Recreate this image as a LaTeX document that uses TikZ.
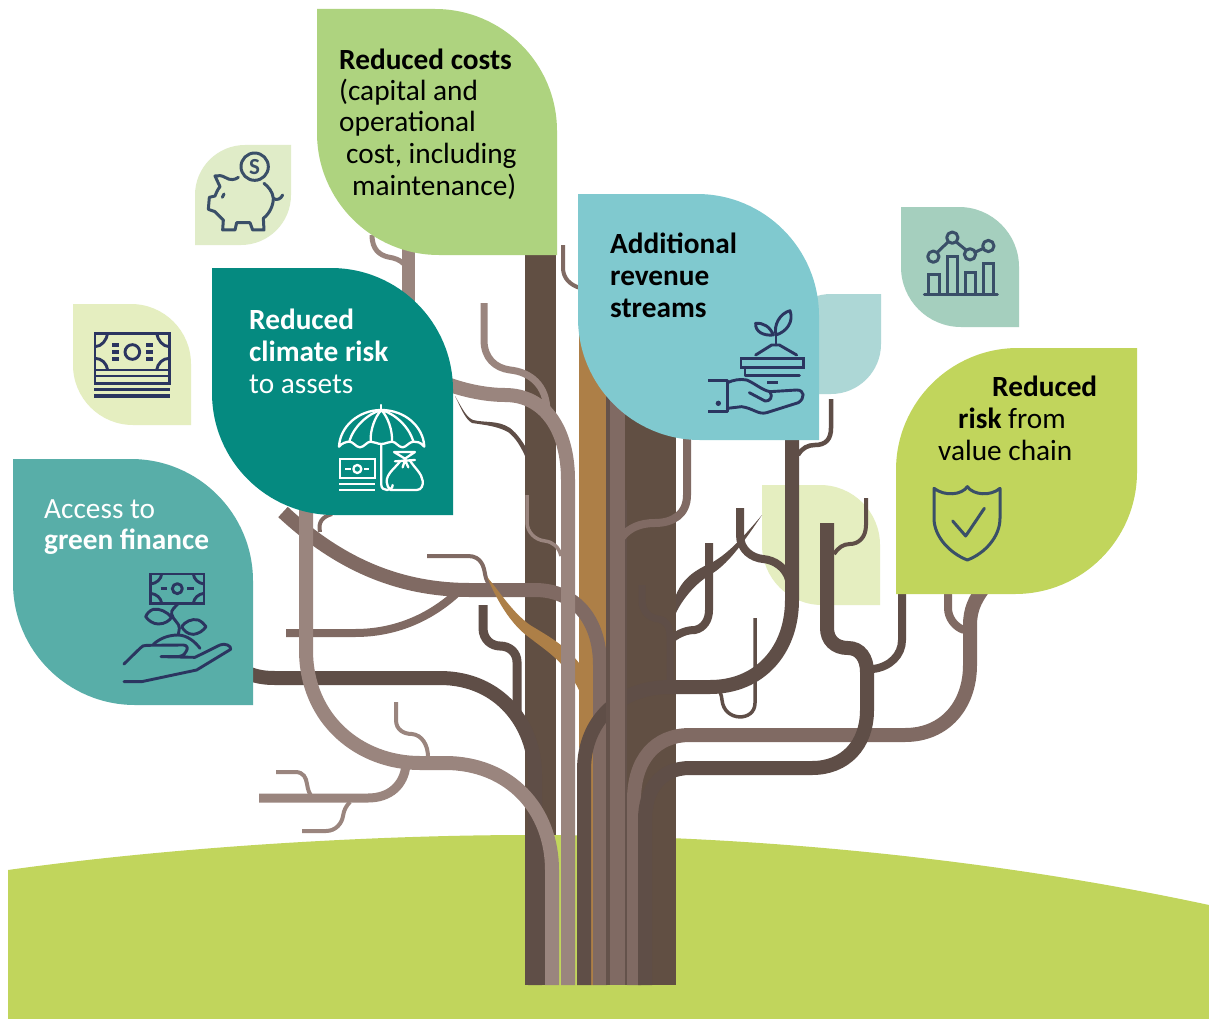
\documentclass[tikz,border=0pt]{standalone}
\usepackage{fontspec}
\setmainfont{Carlito}
\newcommand{\leafA}[6]{\fill[#6] (#1,#2) -- ({#3-#5},#2) .. controls ({#3-.448*#5},#2) and (#3,{#2+.448*#5}) .. (#3,{#2+#5}) -- (#3,#4) -- ({#1+#5},#4) .. controls ({#1+.448*#5},#4) and (#1,{#4-.448*#5}) .. (#1,{#4-#5}) -- cycle;}
\newcommand{\leafB}[6]{\fill[#6] (#3,#2) -- ({#1+#5},#2) .. controls ({#1+.448*#5},#2) and (#1,{#2+.448*#5}) .. (#1,{#2+#5}) -- (#1,#4) -- ({#3-#5},#4) .. controls ({#3-.448*#5},#4) and (#3,{#4-.448*#5}) .. (#3,{#4-#5}) -- cycle;}
\definecolor{cdark}{HTML}{5F4E47}
\definecolor{ctrunk}{HTML}{614F43}
\definecolor{cmed}{HTML}{806A63}
\definecolor{clight}{HTML}{9A857E}
\definecolor{corange}{HTML}{AD7F47}
\definecolor{cground}{HTML}{C1D55C}
\definecolor{cnavy}{HTML}{2B3560}
\definecolor{cslate}{HTML}{3A4F68}
\definecolor{lfgreen}{HTML}{AED37F}
\definecolor{lfteal}{HTML}{058A80}
\definecolor{lfaqua}{HTML}{58AEA8}
\definecolor{lfblue}{HTML}{80C9CF}
\definecolor{lflime}{HTML}{C1D55C}
\definecolor{lfpale}{HTML}{E5EEC0}
\definecolor{lfpig}{HTML}{E0ECC8}
\definecolor{lfpaleblue}{HTML}{ADD7D6}
\definecolor{lfsage}{HTML}{A5CFBE}
\tikzset{
  bD/.style={draw=cdark,line width=14pt},
  bM/.style={draw=cmed,line width=14pt},
  bL/.style={draw=clight,line width=14pt},
  twigD/.style={draw=cdark,line width=#1},
  twigM/.style={draw=cmed,line width=#1},
  twigL/.style={draw=clight,line width=#1},
  leaftext/.style={anchor=base west,inner sep=0pt,font=\fontsize{29.3}{33}\selectfont},
  iconN/.style={draw=cnavy,line width=2.9pt,line join=round,line cap=round},
  iconS/.style={draw=cslate,line width=3pt,line join=round,line cap=round},
  iconW/.style={draw=white,line width=2.3pt,line join=round,line cap=round},
}
\begin{document}
\begin{tikzpicture}[x=1pt,y=-1pt]
\useasboundingbox (0,0) rectangle (1209,1019);
\fill[white] (0,0) rectangle (1209,1019);
% ground
\fill[cground] (8,870) .. controls (180,846) and (380,835) .. (530,835) .. controls (760,835) and (1000,860) .. (1209,905) -- (1209,1019) -- (8,1019) -- cycle;
% pale leaf behind twigs
\leafA{762}{485}{880}{605}{60}{lfpale}
% orange core
\fill[corange] (579,300) rectangle (606,700);
\fill[corange] (579,690) -- (606,690) -- (606,770) -- (593,770) -- (593,985) -- (591,985) -- (591,770) -- (579,747) -- cycle;
% dark left post and trunk
\fill[ctrunk] (525,255) rectangle (556,835);
\fill[cdark] (525,835) rectangle (545,985);
\fill[ctrunk] (625,400) rectangle (676,985);
% trunk strip 593-608 and curved medium branch
\draw[bM] (283,512) .. controls (340,565) and (400,590) .. (470,590) -- (535,590) .. controls (575,590) and (600,620) .. (600,665) -- (600,985);
\draw[twigM=8pt] (286,633) -- (355,633) .. controls (395,633) and (430,618) .. (458,592);
\draw[twigM=4pt] (320,532) .. controls (318,522) and (322,517) .. (332,514);
\draw[twigM=4pt] (427,556) -- (468,556) .. controls (482,556) and (484,568) .. (485,574) .. controls (486,580) and (488,583) .. (491,587);
% orange twig
\fill[corange] (487,577) .. controls (500,592) and (512,612) .. (530,625) .. controls (548,636) and (565,645) .. (579,663) -- (579,690) .. controls (565,662) and (548,652) .. (530,638) .. controls (510,624) and (497,600) .. (487,577) -- cycle;
% light strip and climate branch
\draw[bL] (450,385) .. controls (470,392) and (490,395) .. (505,395) .. controls (545,395) and (568,430) .. (568,480) -- (568,985);
\draw[twigL=7pt] (484,303) -- (484,340) .. controls (484,358) and (495,368) .. (510,370) .. controls (530,372) and (547,385) .. (547,412);
\draw[twigL=3.5pt] (527,495) -- (527,522) .. controls (527,532) and (535,540) .. (545,541) .. controls (553,542) and (559,547) .. (561,556);
\fill[cdark] (455,396) .. controls (462,408) and (466,417) .. (473,420) .. controls (485,423) and (498,420) .. (510,428) .. controls (518,434) and (523,443) .. (527,449) -- (526,458) .. controls (521,447) and (516,438) .. (508,432) .. controls (497,426) and (485,425) .. (472,423) .. controls (465,419) and (461,408) .. (455,396) -- cycle;
% top light branch
\draw[twigL=13pt] (408,245) -- (408,305);
\draw[twigL=5pt] (372,235) .. controls (372,250) and (380,255) .. (388,257) .. controls (395,258) and (400,260) .. (404,264);
% dark branch from green finance
\draw[bD] (250,674) .. controls (258,677) and (266,678) .. (275,678) -- (440,678) .. controls (500,678) and (535,725) .. (535,775) -- (535,985);
\draw[twigD=9pt] (483,605) -- (483,628) .. controls (483,640) and (492,646) .. (500,646) .. controls (510,646) and (517,653) .. (517,662) -- (517,712);
% light big left branch
\draw[bL] (306,510) -- (306,650) .. controls (306,720) and (360,763) .. (420,763) -- (445,763) .. controls (510,763) and (552,810) .. (552,870) -- (552,985);
\draw[twigL=9pt] (259,798) -- (368,798) .. controls (390,798) and (404,785) .. (406,765);
\draw[twigL=4pt] (276,772) -- (295,772) .. controls (304,772) and (306,778) .. (307,784) .. controls (308,790) and (309,793) .. (312,797);
\draw[twigL=4pt] (302,831) -- (326,831) .. controls (336,831) and (342,823) .. (343,816) .. controls (344,810) and (346,806) .. (350,802);
\draw[twigL=4pt] (396,702) -- (396,720) .. controls (396,730) and (404,734) .. (412,734) .. controls (422,735) and (428,745) .. (428,757);
% trunk middle: dark right branch
\draw[bD] (584,985) -- (584,770) .. controls (584,720) and (620,687) .. (670,687) -- (710,687) .. controls (760,687) and (792,650) .. (792,600) -- (792,430);
% strips over it
\fill[cdark!85!cmed] (606,380) rectangle (610,985);
\fill[cmed] (610,380) rectangle (625,985);
\fill[cdark!85!cmed] (625,500) rectangle (627,985);
% branches from right
\draw[twigM=8pt] (687,435) -- (687,495) .. controls (687,515) and (672,523) .. (655,523) .. controls (640,523) and (629,528) .. (622,537);
\draw[twigD=7pt] (642,585) -- (642,600) .. controls (642,612) and (650,618) .. (658,619) .. controls (666,620) and (670,626) .. (670,636) -- (670,685);
% secondary branch
\fill[cdark] (676,613) .. controls (682,600) and (695,583) .. (713,573) .. controls (730,562) and (745,540) .. (762,515) .. controls (745,535) and (730,552) .. (713,562) .. controls (695,570) and (683,578) .. (676,595) -- cycle;
\draw[twigD=8pt] (670,640) .. controls (680,632) and (688,630) .. (695,630) .. controls (704,628) and (709,620) .. (709,610) -- (709,543);
\draw[twigD=8pt] (740,508) -- (740,535) .. controls (740,550) and (752,558) .. (763,559) .. controls (775,560) and (786,568) .. (789,580);
\draw[twigD=4.5pt] (798,455) .. controls (802,448) and (808,445) .. (815,445) .. controls (826,445) and (831,439) .. (831,428) -- (831,399);
\draw[twigD=3.5pt] (755,618) -- (755,703) .. controls (755,722) and (724,722) .. (722,700) .. controls (722,697) and (721,695) .. (720,692);
% light medium long branch
\draw[bM] (634,985) -- (634,800) .. controls (634,760) and (655,735) .. (690,735) -- (905,735) .. controls (945,735) and (970,705) .. (970,665) -- (970,625) .. controls (970,610) and (975,600) .. (982,590);
\draw[twigM=8pt] (948,590) -- (948,608) .. controls (948,618) and (955,627) .. (964,630);
% thick right dark branch
\draw[twigD=8pt] (902,590) -- (902,640) .. controls (902,655) and (890,667) .. (873,669);
\draw[bD] (827,523) -- (827,628) .. controls (827,640) and (835,648) .. (848,648) .. controls (860,648) and (867,658) .. (867,672) -- (867,710) .. controls (867,745) and (845,768) .. (812,768) -- (690,768) .. controls (660,768) and (645,790) .. (645,820) -- (645,985);
\draw[twigD=4pt] (866,498) -- (866,525) .. controls (866,538) and (858,544) .. (850,544) .. controls (843,544) and (838,548) .. (834,554);
\draw[twigM=4pt] (563,245) -- (563,268) .. controls (563,278) and (570,285) .. (580,288);
% ---- leaves
\leafA{73}{304}{191}{425}{60}{lfpale}
\leafB{195}{145}{291}{245}{50}{lfpig}
\leafA{901}{207}{1019}{327}{60}{lfsage}
\leafB{781}{294}{881}{394}{50}{lfpaleblue}
\leafA{317}{9}{557}{255}{122}{lfgreen}
\leafA{13}{459}{253}{705}{122}{lfaqua}
\leafA{212}{268}{453}{515}{122}{lfteal}
\leafA{578}{194}{819}{440}{122}{lfblue}
\leafB{896}{348}{1137}{594}{122}{lflime}
% ---- texts
\node[leaftext] (c1) at (339,70) {\textbf{Reduced costs}};
\node[leaftext] (c2) at (339,101) {(capital and};
\node[leaftext] (c3) at (339,132) {operational};
\node[leaftext] (c4) at (346,164) {cost, including};
\node[leaftext] (c5) at (352,196) {maintenance)};
\node[leaftext,text=white] (r1) at (249,329) {\textbf{Reduced}};
\node[leaftext,text=white] (r2) at (249,361) {\textbf{climate risk}};
\node[leaftext,text=white] (r3) at (249,393) {to assets};
\node[leaftext,text=white] (g1) at (44,518) {Access to};
\node[leaftext,text=white] (g2) at (44,549) {\textbf{green finance}};
\node[leaftext] (a1) at (610,253) {\textbf{Additional}};
\node[leaftext] (a2) at (610,285) {\textbf{revenue}};
\node[leaftext] (a3) at (610,317) {\textbf{streams}};
\node[leaftext] (v1) at (992,396) {\textbf{Reduced}};
\node[leaftext] (v2) at (958,428) {\textbf{risk} from};
\node[leaftext] (v3) at (938,460) {value chain};
% ---- piggy icon
\begin{scope}[shift={(60,140)},scale=1/3]
\draw[iconS] (584,80) circle (41);
\node[inner sep=0pt,text=cslate,font=\bfseries\fontsize{23}{23}\selectfont] (pigS) at (584,80) {S};
\draw[iconS] (535,112) .. controls (525,120) and (510,122) .. (495,112) .. controls (485,106) and (475,106) .. (465,108) -- (480,140) .. controls (472,150) and (468,160) .. (465,168) -- (448,172) -- (445,208) -- (465,215) -- (490,240) -- (488,270) -- (525,270) -- (530,248) -- (570,248) -- (578,270) -- (612,270) -- (610,235) .. controls (630,220) and (640,195) .. (640,175) .. controls (638,155) and (625,140) .. (612,130);
\draw[iconS] (640,175) .. controls (650,182) and (662,178) .. (668,165);
\draw[iconS] (492,162) -- (487,172);
\end{scope}
% ---- cash icon
\begin{scope}[shift={(60,140)},scale=1/3]
\draw[iconN,line cap=butt,line join=miter] (105,580) rectangle (328,730);
\draw[iconN,line cap=butt] (105,690) -- (328,690) (105,708) -- (328,708);
\draw[iconN,line cap=butt,line width=3.3pt] (103,748) -- (330,748) (103,768) -- (330,768);
\draw[iconN,line cap=butt] (105,620) .. controls (125,620) and (140,600) .. (143,580) (328,620) .. controls (308,620) and (293,600) .. (290,580) (105,655) .. controls (125,655) and (140,670) .. (143,690) (328,655) .. controls (308,655) and (293,670) .. (290,690);
\draw[iconN] (217,636) circle (22);
\draw[iconN,line cap=butt,line width=3.6pt] (157,615) -- (177,615) (157,636) -- (177,636) (157,657) -- (177,657) (258,615) -- (278,615) (258,636) -- (278,636) (258,657) -- (278,657);
\end{scope}
% ---- finance icon
\begin{scope}[shift={(100,400)},scale=1/3]
\draw[iconN,line cap=butt,line join=miter] (152,522) rectangle (312,610);
\draw[iconN,line cap=butt] (152,552) .. controls (170,550) and (183,538) .. (185,522) (312,552) .. controls (295,550) and (282,538) .. (280,522) (152,580) .. controls (170,582) and (183,594) .. (185,610) (312,580) .. controls (295,582) and (282,594) .. (280,610);
\draw[iconN] (232,566) circle (15);
\draw[iconN,line cap=butt] (182,566) -- (200,566) (262,566) -- (282,566);
\draw[iconN] (235,610) .. controls (225,622) and (212,630) .. (215,642) .. controls (218,660) and (240,670) .. (238,685) -- (235,705);
\draw[iconN] (215,652) .. controls (200,635) and (180,625) .. (160,628) .. controls (148,632) and (140,642) .. (137,650) .. controls (145,662) and (160,672) .. (175,672) .. controls (195,672) and (208,662) .. (215,652) -- cycle;
\draw[iconN] (245,680) .. controls (255,665) and (275,655) .. (295,660) .. controls (305,665) and (313,672) .. (318,680) .. controls (310,692) and (295,702) .. (280,703) .. controls (262,703) and (252,692) .. (245,680) -- cycle;
\draw[iconN] (160,733) .. controls (180,715) and (205,705) .. (235,705) .. controls (262,706) and (285,725) .. (300,745);
\draw[iconN] (72,792) -- (120,745) .. controls (125,738) and (132,736) .. (140,736) -- (250,735) .. controls (262,735) and (265,745) .. (258,755) .. controls (252,765) and (245,770) .. (235,770) -- (183,770) -- (285,772) -- (360,735) .. controls (375,728) and (395,738) .. (392,748) -- (290,810) -- (125,845) -- (72,845);
\end{scope}
% ---- umbrella icon
\begin{scope}[shift={(240,240)},scale=1/3]
\draw[iconW] (424,495) -- (424,510);
\draw[iconW] (297,620) .. controls (300,560) and (355,510) .. (424,510) .. controls (495,510) and (550,560) .. (553,620) .. controls (540,605) and (530,605) .. (520,605) .. controls (508,605) and (498,622) .. (488,622) .. controls (475,622) and (468,605) .. (456,605) .. controls (445,605) and (436,612) .. (424,612) .. controls (412,612) and (403,605) .. (392,605) .. controls (380,605) and (372,622) .. (360,622) .. controls (348,622) and (340,605) .. (328,605) .. controls (318,605) and (305,610) .. (297,620) -- cycle;
\draw[iconW] (424,510) .. controls (385,520) and (340,560) .. (328,605) (424,510) .. controls (405,530) and (390,570) .. (392,605) (424,510) .. controls (443,530) and (458,570) .. (456,605) (424,510) .. controls (463,520) and (508,560) .. (520,605);
\draw[iconW] (424,612) -- (424,735) .. controls (424,755) and (458,755) .. (458,735);
\draw[iconW,line cap=butt,line join=miter] (300,658) rectangle (405,715);
\draw[iconW] (352,687) circle (12);
\draw[iconW,line cap=butt] (316,687) -- (332,687) (372,687) -- (387,687) (298,733) -- (406,733) (298,750) -- (406,750);
\draw[iconW] (462,636) -- (525,636) (495,656) -- (462,636) (495,656) -- (525,636) (465,664) -- (525,660) (488,682) -- (495,660) -- (505,682);
\draw[iconW] (480,664) .. controls (465,685) and (440,700) .. (440,725) .. controls (440,735) and (445,745) .. (452,750) -- (530,750) .. controls (545,750) and (550,735) .. (548,722) .. controls (545,700) and (525,685) .. (510,662);
\end{scope}
% ---- plant-in-hand icon
\begin{scope}[shift={(690,200)},scale=1/3]
\draw[iconN] (258,405) .. controls (250,375) and (270,340) .. (300,332) .. controls (312,365) and (290,395) .. (258,405) -- cycle;
\draw[iconN] (250,405) .. controls (240,380) and (220,368) .. (197,370) .. controls (195,395) and (220,408) .. (250,405) -- cycle;
\draw[iconN] (258,405) -- (258,435);
\draw[iconN] (197,465) -- (245,435) -- (268,435) -- (320,465);
\draw[iconN,line join=miter] (153,475) rectangle (340,502);
\draw[iconN] (165,502) -- (165,527) -- (328,527);
\draw[iconN,line cap=butt] (232,548) -- (265,548);
\draw[iconN,line cap=butt] (55,542) -- (112,542) -- (112,635) -- (55,635);
\fill[cnavy] (85,610) circle (8);
\draw[iconN] (112,548) .. controls (130,540) and (150,536) .. (170,540) .. controls (195,550) and (215,570) .. (240,575) -- (320,570) .. controls (345,570) and (345,595) .. (325,608) -- (230,638) .. controls (205,645) and (190,625) .. (155,620) -- (112,625);
\draw[iconN] (178,578) -- (225,603) .. controls (240,605) and (250,590) .. (240,575);
\end{scope}
% ---- chart icon
\begin{scope}[shift={(690,200)},scale=1/3]
\draw[iconS] (703,283) -- (922,283);
\draw[iconS,line join=miter,line cap=butt] (715,283) -- (715,222) -- (748,222) -- (748,283) (772,283) -- (772,168) -- (803,168) -- (803,283) (825,283) -- (825,218) -- (857,218) -- (857,283) (880,283) -- (880,190) -- (910,190) -- (910,283);
\draw[iconS] (730,170) circle (17) (787,113) circle (17) (840,163) circle (17) (895,138) circle (17);
\draw[iconS,line cap=butt] (742,157) -- (775,125) (800,127) -- (828,150) (855,157) -- (880,145);
\end{scope}
% ---- shield icon
\begin{scope}[shift={(620,420)},scale=1/3]
\draw[iconS] (942,205) .. controls (975,230) and (1025,225) .. (1042,200) .. controls (1060,225) and (1110,230) .. (1140,205) -- (1140,295) .. controls (1140,350) and (1095,400) .. (1042,420) .. controls (990,400) and (942,350) .. (942,295) -- cycle;
\draw[iconS] (998,303) -- (1037,348) -- (1093,265);
\end{scope}
\end{tikzpicture}
\end{document}
